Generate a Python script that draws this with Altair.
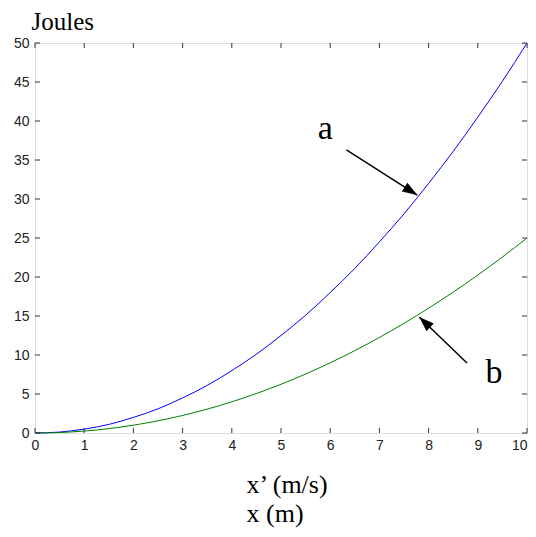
import altair as alt
import pandas as pd

# curve values
x_vals = [0, 0.5, 1, 1.5, 2, 2.5, 3, 3.5, 4, 4.5, 5, 5.5, 6, 6.5, 7, 7.5, 8, 8.5, 9, 9.5, 10]
a_vals = [0, 0.12, 0.5, 1.1, 2, 3.1, 4.5, 6.1, 8, 10.1, 12.5, 15.1, 18, 21.1, 24.5, 28.1, 32, 36.1, 40.5, 45.1, 50]
b_vals = [0, 0.06, 0.25, 0.56, 1, 1.56, 2.25, 3.06, 4, 5.06, 6.25, 7.56, 9, 10.56, 12.25, 14.06, 16, 18.06, 20.25, 22.56, 25]

x_ticks = [0, 1, 2, 3, 4, 5, 6, 7, 8, 9, 10]
y_ticks = [0, 5, 10, 15, 20, 25, 30, 35, 40, 45, 50]

# annotations: arrows (start -> tip) and labels
arrow_names = ["a", "b"]
arrow_x0 = [6.33, 8.78]
arrow_y0 = [36.3, 8.97]
arrow_x1 = [7.77, 7.81]
arrow_y1 = [30.5, 14.87]
arrow_angle = [122.4, 313.8]
label_x = [5.90, 9.33]
label_y = [37.7, 6.4]

W, H = 492, 390

curves = pd.DataFrame({
    "x": x_vals * 2,
    "y": a_vals + b_vals,
    "s": ["a"] * len(x_vals) + ["b"] * len(x_vals),
})
arrows = pd.DataFrame({"n": arrow_names, "x0": arrow_x0, "y0": arrow_y0,
                       "x1": arrow_x1, "y1": arrow_y1, "ang": arrow_angle,
                       "lx": label_x, "ly": label_y})
xt = pd.DataFrame({"t": x_ticks})
yt = pd.DataFrame({"t": y_ticks})

xs = alt.Scale(domain=[0, 10], nice=False, zero=False)
ys = alt.Scale(domain=[0, 50], nice=False, zero=False)

xaxis = alt.Axis(values=x_ticks, grid=False, domain=False, tickSize=0, labelPadding=5,
                 labelFlush=False, labelOverlap=False,
                 labelAlign={"condition": {"test": "datum.value == 10", "value": "right"},
                             "value": "center"},
                 labelFont="Liberation Sans", labelFontSize=14, labelColor="#222",
                 title=["x\u2019 (m/s)", "x (m)"], titleFont="Liberation Serif",
                 titleFontSize=26, titleFontWeight="normal", titleColor="#000",
                 titleLineHeight=29, titleAlign="left", titleAnchor="start",
                 titleBaseline="alphabetic", titleX=211, titleY=59)
yaxis = alt.Axis(values=y_ticks, grid=False, domain=False, tickSize=0, labelPadding=6,
                 labelFlush=False, labelOverlap=False,
                 labelFont="Liberation Sans", labelFontSize=14, labelColor="#222",
                 title="Joules", titleFont="Liberation Serif", titleFontSize=25,
                 titleFontWeight="normal", titleColor="#000", titleAngle=0,
                 titleAlign="left", titleBaseline="alphabetic", titleX=-4, titleY=-14)

lines = alt.Chart(curves).mark_line(strokeWidth=1, interpolate="monotone").encode(
    x=alt.X("x:Q", scale=xs, axis=xaxis),
    y=alt.Y("y:Q", scale=ys, axis=yaxis),
    color=alt.Color("s:N", scale=alt.Scale(domain=["a", "b"], range=["#0000FF", "#008000"]), legend=None),
)

tk = 5
tb = alt.Chart(xt).mark_rule(color="#333", strokeWidth=1).encode(
    x=alt.X("t:Q", scale=xs, axis=xaxis), y=alt.value(H), y2=alt.value(H - tk))
tt = alt.Chart(xt).mark_rule(color="#333", strokeWidth=1).encode(
    x=alt.X("t:Q", scale=xs, axis=xaxis), y=alt.value(0), y2=alt.value(tk))
tl = alt.Chart(yt).mark_rule(color="#333", strokeWidth=1).encode(
    y=alt.Y("t:Q", scale=ys, axis=yaxis), x=alt.value(0), x2=alt.value(tk))
tr = alt.Chart(yt).mark_rule(color="#333", strokeWidth=1).encode(
    y=alt.Y("t:Q", scale=ys, axis=yaxis), x=alt.value(W), x2=alt.value(W - tk))

shafts = alt.Chart(arrows).mark_rule(color="#000", strokeWidth=1.5).encode(
    x=alt.X("x0:Q", scale=xs, axis=xaxis), y=alt.Y("y0:Q", scale=ys, axis=yaxis),
    x2="x1:Q", y2="y1:Q")
heads = alt.Chart(arrows).mark_point(shape="M0,0L0.35,1L-0.35,1Z", filled=True,
                                     color="#000", opacity=1, size=900).encode(
    x=alt.X("x1:Q", scale=xs, axis=xaxis), y=alt.Y("y1:Q", scale=ys, axis=yaxis),
    angle=alt.Angle("ang:Q", scale=None))
labels = alt.Chart(arrows).mark_text(font="Liberation Serif", fontSize=34, color="#000",
                                     baseline="alphabetic", align="center").encode(
    x=alt.X("lx:Q", scale=xs, axis=xaxis), y=alt.Y("ly:Q", scale=ys, axis=yaxis), text="n:N")

chart = alt.layer(lines, tb, tt, tl, tr, shafts, heads, labels).properties(
    width=W, height=H,
    autosize=alt.AutoSizeParams(type="none"),
    padding={"left": 27, "top": 35, "right": 1, "bottom": 96},
).configure_view(stroke="#333", strokeWidth=1).configure(background="white")

chart.save("out.html", embed_options={"renderer": "svg", "actions": False})
